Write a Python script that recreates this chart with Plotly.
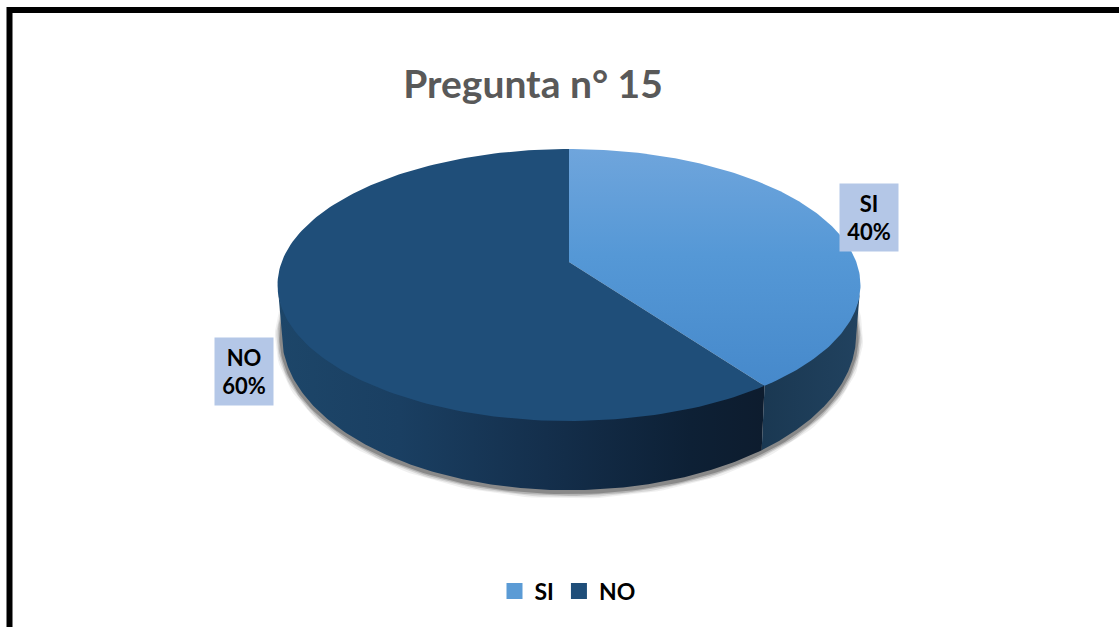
import math
import plotly.graph_objects as go

# --- data ---
categories = ["SI", "NO"]
values = [40, 60]
title_text = "Pregunta n° 15"

# --- colours ---
top_si_scale = [[0, "#4689CB"], [0.55, "#5598D6"], [1, "#6FA5DC"]]
top_no_color = "#1F4E79"
wall_si_scale = [[0, "#1A3852"], [1, "#21425F"]]
wall_no_scale = [[0, "#1D4669"], [0.25, "#1A3F62"], [0.55, "#142F4C"], [0.85, "#0D2035"], [1, "#0D1C2E"]]
label_bg = "#B4C7E7"

# --- projection of the tilted disc (perspective) ---
CX, K = 569.0, -0.169
TOP = dict(a=287.3, b=132.1, y0=262.0)
LOW = dict(a=283.0, b=150.6, y0=309.0)


def proj(theta_deg, disc):
    t = math.radians(theta_deg)
    u, v = math.sin(t), -math.cos(t)
    d = 1 + K * v
    return CX + disc["a"] * u / d, disc["y0"] + disc["b"] * v / d


def arc(start, end, disc, n=160):
    pts = [proj(start + (end - start) * i / n, disc) for i in range(n + 1)]
    return [p[0] for p in pts], [p[1] for p in pts]


total = sum(values)
split = 360 * values[0] / total
RIGHT_EDGE, LEFT_EDGE = 100, 260  # silhouette angles of the disc

fig = go.Figure()

# soft shadow under the wall
sx, sy = arc(82, 278, LOW)
sy = [y + 1.5 for y in sy]
for w, alpha in [(14, 0.07), (11, 0.12), (8, 0.2), (5, 0.3)]:
    fig.add_trace(go.Scatter(x=sx, y=sy, mode="lines", showlegend=False, hoverinfo="skip",
                             line=dict(color=f"rgba(40,40,40,{alpha})", width=w)))


def wall(a0, a1, scale):
    tx, ty = arc(a0, a1, TOP)
    ty = [y - 2 for y in ty]  # tucked under the top face so no seam shows
    lx, ly = arc(a0, a1, LOW)
    fig.add_trace(go.Scatter(x=tx + lx[::-1], y=ty + ly[::-1], mode="lines", fill="toself",
                             line=dict(width=0), showlegend=False, hoverinfo="skip",
                             fillgradient=dict(type="horizontal", colorscale=scale)))


wall(RIGHT_EDGE, split, wall_si_scale)
wall(split, LEFT_EDGE, wall_no_scale)

# top faces
vx, vy = proj(0, dict(TOP, a=0, b=0))
ax, ay = arc(0, split, TOP)
fig.add_trace(go.Scatter(x=[vx] + ax + [vx], y=[vy] + ay + [vy], mode="lines", fill="toself",
                         line=dict(width=0), showlegend=False, name=categories[0],
                         fillgradient=dict(type="vertical", colorscale=top_si_scale)))
ax, ay = arc(split, 360, TOP)
fig.add_trace(go.Scatter(x=[vx] + ax + [vx], y=[vy] + ay + [vy], mode="lines", fill="toself",
                         line=dict(width=0), showlegend=False, name=categories[1],
                         fillcolor=top_no_color))

# legend entries
for name, col in zip(categories, ["#5B9BD5", top_no_color]):
    fig.add_trace(go.Scatter(x=[None], y=[None], mode="markers", name=name,
                             marker=dict(symbol="square", size=16, color=col)))

# data labels
label_pos = [(869, 217.5), (244, 371.5)]
for c, v, (lx, ly) in zip(categories, values, label_pos):
    fig.add_annotation(x=lx, y=ly, text=f"<b>{c}<br>{v}%</b>", showarrow=False, width=56, height=65,
                       bgcolor=label_bg, font=dict(family="Lato", size=22, color="#000000"), align="center")

fig.update_layout(
    width=1119, height=627, autosize=False,
    margin=dict(l=0, r=0, t=0, b=0),
    paper_bgcolor="white", plot_bgcolor="white",
    title=dict(text=f"<b>{title_text}</b>", x=533 / 1119, xanchor="center", y=1 - 84 / 627, yanchor="middle",
               font=dict(family="Lato", size=39, color="#595959")),
    xaxis=dict(range=[0, 1119], visible=False, fixedrange=True),
    yaxis=dict(range=[627, 0], visible=False, fixedrange=True),
    legend=dict(orientation="h", x=(559.5 + 8) / 1119, xanchor="center", y=1 - 591 / 627, yanchor="middle",
                font=dict(family="Lato", size=23, color="#000000", weight="bold"), itemwidth=30,
                bgcolor="rgba(0,0,0,0)"),
    shapes=[dict(type="path", path="M 9.5 627 L 9.5 10 L 1119 10", xref="x", yref="y",
                 line=dict(color="black", width=6))],
)

fig.write_html("out.html", config=dict(displayModeBar=False),
               post_script="document.body.style.margin='0';document.documentElement.style.overflow='hidden';")
